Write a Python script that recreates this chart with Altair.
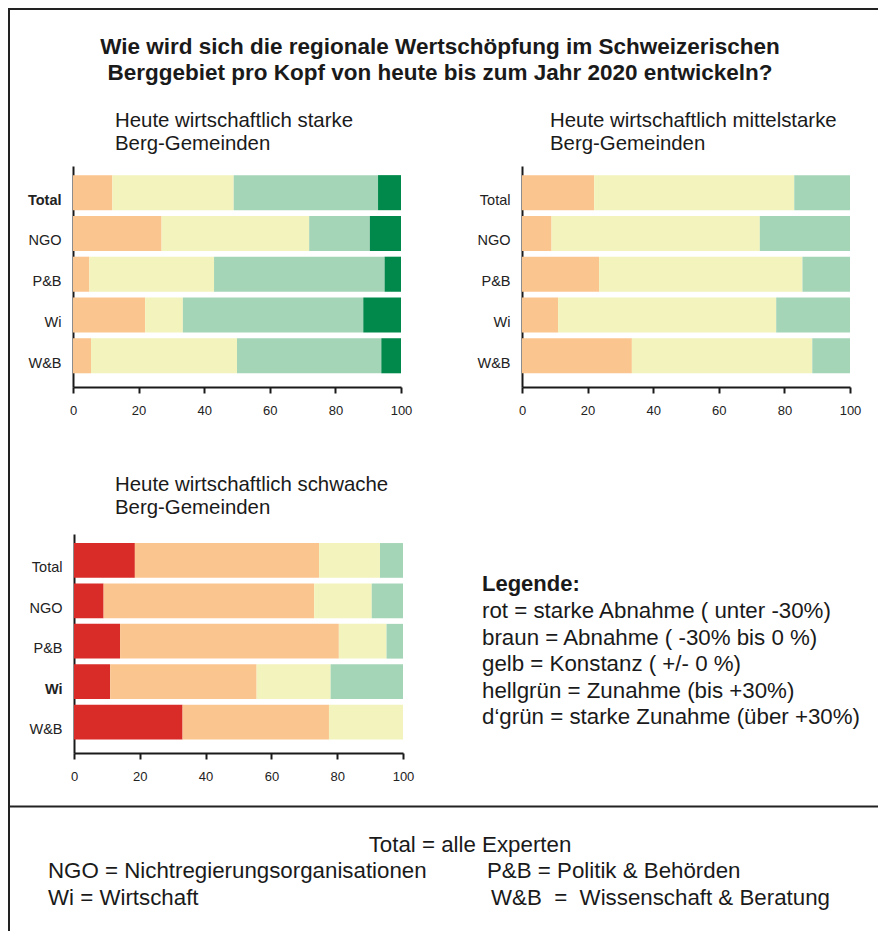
import altair as alt
import pandas as pd

FONT = "Liberation Sans"
TEXT_COLOR = "#1a1a1a"

# ---------------- data ----------------
groups = ["Total", "NGO", "P&B", "Wi", "W&B"]
categories = ["rot", "braun", "gelb", "hellgrün", "d'grün"]
colors = ["#D92B27", "#FBC58F", "#F3F3BD", "#A4D5B7", "#00894A"]

# Heute wirtschaftlich starke Berg-Gemeinden
starke_braun = [12, 27, 5, 22, 5.5]
starke_gelb = [37, 45, 38, 11.5, 44.5]
starke_hellgruen = [44, 18.5, 52, 55, 44]
starke_dgruen = [7, 9.5, 5, 11.5, 6]

# Heute wirtschaftlich mittelstarke Berg-Gemeinden
mittel_braun = [22, 9, 23.5, 11, 33.5]
mittel_gelb = [61, 63.5, 62, 66.5, 55]
mittel_hellgruen = [17, 27.5, 14.5, 22.5, 11.5]

# Heute wirtschaftlich schwache Berg-Gemeinden
schwach_rot = [18.5, 9, 14, 11, 33]
schwach_braun = [56, 64, 66.5, 44.5, 44.5]
schwach_gelb = [18.5, 17.5, 14.5, 22.5, 22.5]
schwach_hellgruen = [7, 9.5, 5, 22, 0]

x_ticks = [0, 20, 40, 60, 80, 100]

title_lines = [
    "Wie wird sich die regionale Wertschöpfung im Schweizerischen",
    "Berggebiet pro Kopf von heute bis zum Jahr 2020 entwickeln?",
]
sub_starke = ["Heute wirtschaftlich starke", "Berg-Gemeinden"]
sub_mittel = ["Heute wirtschaftlich mittelstarke", "Berg-Gemeinden"]
sub_schwach = ["Heute wirtschaftlich schwache", "Berg-Gemeinden"]
legend_head = "Legende:"
legend_lines = [
    "rot = starke Abnahme ( unter -30%)",
    "braun = Abnahme ( -30% bis 0 %)",
    "gelb = Konstanz ( +/- 0 %)",
    "hellgrün = Zunahme (bis +30%)",
    "d\u2018grün = starke Zunahme (über +30%)",
]
footer_total = "Total = alle Experten"
footer_ngo = "NGO = Nichtregierungsorganisationen"
footer_pb = "P&B = Politik & Behörden"
footer_wi = "Wi = Wirtschaft"
footer_wb = "W&B \u00a0=\u00a0 Wissenschaft & Beratung"


def panel_df(series):
    rows = []
    for cat, vals in series.items():
        for g, v in zip(groups, vals):
            rows.append({"group": g, "cat": cat, "idx": categories.index(cat), "value": v})
    return pd.DataFrame(rows)


df_starke = panel_df({"braun": starke_braun, "gelb": starke_gelb,
                      "hellgrün": starke_hellgruen, "d'grün": starke_dgruen})
df_mittel = panel_df({"braun": mittel_braun, "gelb": mittel_gelb,
                      "hellgrün": mittel_hellgruen})
df_schwach = panel_df({"rot": schwach_rot, "braun": schwach_braun,
                       "gelb": schwach_gelb, "hellgrün": schwach_hellgruen})

W, H = 870, 923


def panel(df, xrange, yrange, xoffset, yoffset, bold_label):
    return alt.Chart(df).mark_bar().encode(
        x=alt.X(
            "value:Q", stack="zero", title="",
            scale=alt.Scale(domain=[0, 100], range=xrange, nice=False),
            axis=alt.Axis(
                orient="bottom", values=x_ticks, format="d", offset=xoffset,
                grid=False, domainColor="#1a1a1a", domainWidth=2,
                tickColor="#1a1a1a", tickWidth=2, tickSize=6,
                labelFont=FONT, labelFontSize=13, labelColor="#222222",
                labelPadding=11, labelFlush=False,
            ),
        ),
        y=alt.Y(
            "group:N", sort=groups, title="",
            scale=alt.Scale(domain=groups, range=yrange, paddingInner=0.14,
                            paddingOuter=0.28, align=0.4),
            axis=alt.Axis(
                orient="left", offset=yoffset, ticks=False,
                domainColor="#1a1a1a", domainWidth=2,
                labelFont=FONT, labelFontSize=14.5, labelColor="#222222",
                labelPadding=12, labelOffset=8,
                labelFontWeight={"expr": f"datum.value === '{bold_label}' ? 'bold' : 'normal'"},
            ),
        ),
        color=alt.Color("cat:N", scale=alt.Scale(domain=categories, range=colors), legend=None),
        order=alt.Order("idx:Q"),
    )


def text_line(txt, x, y, size, weight="normal", align="left"):
    return alt.Chart(pd.DataFrame({"t": [txt]})).mark_text(
        align=align, baseline="middle", font=FONT, fontSize=size,
        fontWeight=weight, color=TEXT_COLOR,
    ).encode(x=alt.value(x), y=alt.value(y), text="t:N")


def rule(x1, x2, y1, y2):
    return alt.Chart(pd.DataFrame({"k": [0]})).mark_rule(
        color="#222222", strokeWidth=2
    ).encode(x=alt.value(x1), x2=alt.value(x2), y=alt.value(y1), y2=alt.value(y2))


p1 = panel(df_starke, [65, 393], [158, 379], 379 - H, -65, "Total")
p2 = panel(df_mittel, [514, 842], [158, 379], 379 - H, -514, "none")
p3 = panel(df_schwach, [66, 395], [526, 745], 745 - H, -66, "Wi")

texts = [
    text_line(title_lines[0], 432, 39, 22.5, "bold", "center"),
    text_line(title_lines[1], 432, 65, 22.5, "bold", "center"),
    text_line(sub_starke[0], 107, 113, 20.4),
    text_line(sub_starke[1], 107, 136, 20.4),
    text_line(sub_mittel[0], 542, 113, 20.4),
    text_line(sub_mittel[1], 542, 136, 20.4),
    text_line(sub_schwach[0], 107, 477, 20.4),
    text_line(sub_schwach[1], 107, 500, 20.4),
    text_line(legend_head, 474, 576, 22, "bold"),
]
for i, line in enumerate(legend_lines):
    texts.append(text_line(line, 474, 603 + 26.5 * i, 22.3))
texts += [
    text_line(footer_total, 462, 837, 22.3, "normal", "center"),
    text_line(footer_ngo, 40, 863, 22.3),
    text_line(footer_pb, 479, 863, 22.3),
    text_line(footer_wi, 40, 890, 22.3),
    text_line(footer_wb, 483, 890, 22.3),
]

frame = [
    rule(0, W, 1, 1),
    rule(1, 1, 0, H),
    rule(0, W, 798.5, 798.5),
]

chart = alt.layer(p1, p2, p3, *texts, *frame).resolve_scale(
    x="independent", y="independent"
).properties(
    width=W, height=H, padding=0,
    autosize=alt.AutoSizeParams(type="none"),
).configure_view(strokeWidth=0).configure(background="white")

chart.save("out.html", embed_options={"renderer": "svg", "actions": False})
